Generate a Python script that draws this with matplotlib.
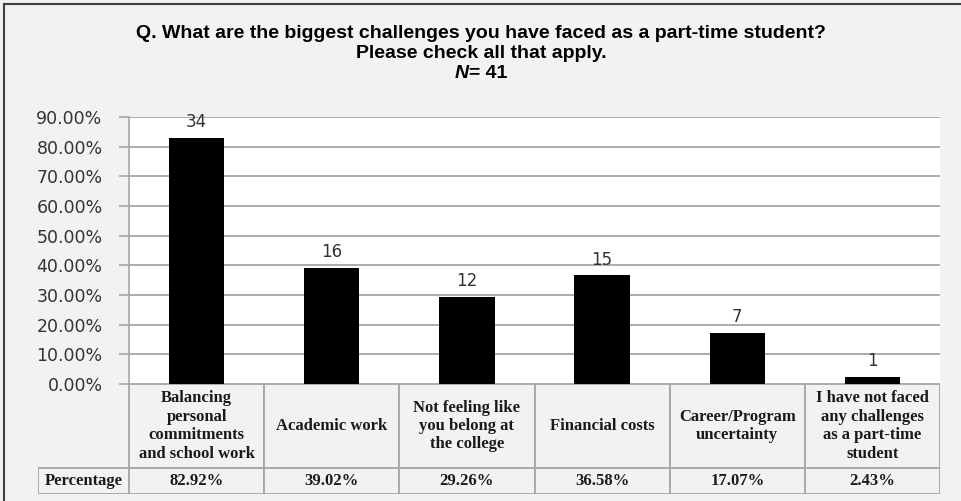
import matplotlib.pyplot as plt
from matplotlib.patches import Rectangle

categories = [
    "Balancing\npersonal\ncommitments\nand school work",
    "Academic work",
    "Not feeling like\nyou belong at\nthe college",
    "Financial costs",
    "Career/Program\nuncertainty",
    "I have not faced\nany challenges\nas a part-time\nstudent",
]
counts = [34, 16, 12, 15, 7, 1]
percentages = [82.92, 39.02, 29.26, 36.58, 17.07, 2.43]
row_label = "Percentage"

W, H = 962, 501
bg = "#f2f2f2"
grid_col = "#a6a6a6"
text_col = "#333333"

fig = plt.figure(figsize=(W / 100, H / 100), dpi=100, facecolor=bg)

def fx(px):
    return px / W

def fy(py):
    return 1 - py / H

# plot area in pixels
left, right, top, bottom = 129, 940, 117, 384
ax = fig.add_axes([fx(left), fy(bottom), fx(right - left), (bottom - top) / H])
ax.set_facecolor("white")

x = list(range(len(categories)))
ax.bar(x, percentages, width=0.41, color="black", zorder=3)
for xi, v, c in zip(x, percentages, counts):
    ax.annotate(str(c), (xi, v), xytext=(0, 5), textcoords="offset points",
                ha="center", va="bottom", fontsize=12, color=text_col, zorder=4)

ax.set_xlim(-0.5, len(categories) - 0.5)
ax.set_ylim(0, 90)
ax.set_yticks(range(0, 91, 10))
ax.set_yticklabels([f"{t:.2f}%" for t in range(0, 91, 10)], fontsize=12.5, color=text_col)
ax.set_xticks([])
ax.yaxis.grid(True, color=grid_col, linewidth=1.3, zorder=0)
ax.tick_params(axis="y", length=7, width=1.2, color=grid_col, pad=12)
for s in ["top", "right", "bottom"]:
    ax.spines[s].set_visible(False)
ax.spines["left"].set_color(grid_col)
ax.spines["left"].set_linewidth(1.2)

# data table below the plot
tab_left, tab_mid, tab_bottom = 38, 468, 494
col_w = (right - left) / len(categories)
tax = fig.add_axes([fx(tab_left), fy(tab_bottom), fx(right - tab_left), (tab_bottom - bottom) / H])
tax.set_xlim(-0.5 - (left - tab_left) / col_w, len(categories) - 0.5)
tax.set_ylim(0, tab_bottom - bottom)
tax.axis("off")
row_h = tab_bottom - tab_mid
head_h = tab_mid - bottom

cell_kw = dict(facecolor=bg, edgecolor=grid_col, linewidth=1.3)
serif = dict(family="Liberation Serif", fontweight="bold", fontsize=12, color="#1a1a1a")

x0 = -0.5 - (left - tab_left) / col_w
tax.add_patch(Rectangle((x0, 0), -0.5 - x0, row_h, **cell_kw))
tax.text((x0 - 0.5) / 2, row_h / 2, row_label, ha="center", va="center", **serif)
for xi, cat, p in zip(x, categories, percentages):
    tax.add_patch(Rectangle((xi - 0.5, row_h), 1, head_h, **cell_kw))
    tax.add_patch(Rectangle((xi - 0.5, 0), 1, row_h, **cell_kw))
    tax.text(xi, row_h + head_h / 2, cat, ha="center", va="center", linespacing=1.2, **serif)
    tax.text(xi, row_h / 2, f"{p:.2f}%", ha="center", va="center", **serif)

# title
tfont = dict(family="Liberation Sans", fontweight="bold", fontsize=14, color="black")
fig.text(0.5, fy(33), "Q. What are the biggest challenges you have faced as a part-time student?",
         ha="center", va="center", **tfont)
fig.text(0.5, fy(53), "Please check all that apply.", ha="center", va="center", **tfont)
fig.text(fx(469), fy(73), "N", ha="right", va="center", style="italic", **tfont)
fig.text(fx(469), fy(73), "= 41", ha="left", va="center", **tfont)

# outer border (top and left visible)
fig.add_artist(plt.Line2D([fx(4), fx(4)], [fy(4), 0], color="#404040", linewidth=1.5))
fig.add_artist(plt.Line2D([fx(4), 1], [fy(4), fy(4)], color="#404040", linewidth=1.5))

fig.savefig("out.png", dpi=100, facecolor=bg)
